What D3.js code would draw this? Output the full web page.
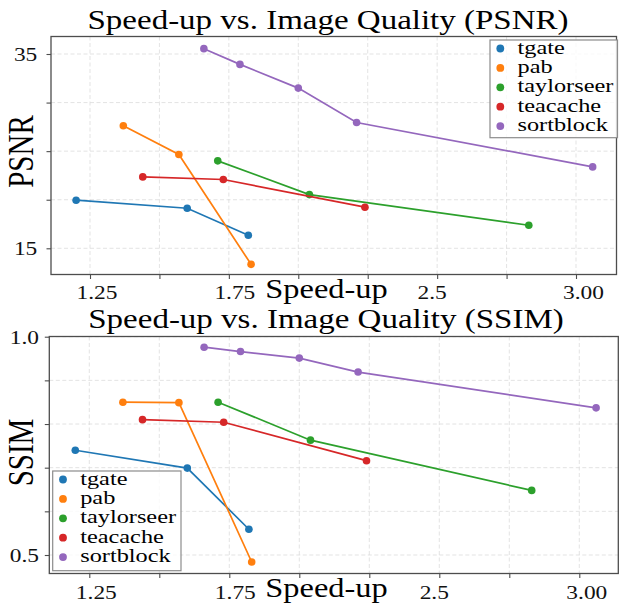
<!DOCTYPE html>
<html>
<head>
<meta charset="utf-8">
<script src="https://cdn.jsdelivr.net/npm/d3@7"></script>
<style>
  html, body { margin: 0; padding: 0; background: #fff; }
  svg { display: block; }
</style>
</head>
<body>
<svg id="chart" width="620" height="605"></svg>
<script>
// ---------------- data ----------------
const methods = ["tgate", "pab", "taylorseer", "teacache", "sortblock"];
const colors = ["#1f77b4", "#ff7f0e", "#2ca02c", "#d62728", "#9467bd"];

const speedTgate      = [1.20, 1.60, 1.82];
const speedPab        = [1.37, 1.57, 1.83];
const speedTaylorseer = [1.71, 2.04, 2.83];
const speedTeacache   = [1.44, 1.73, 2.24];
const speedSortblock  = [1.66, 1.79, 2.00, 2.21, 3.06];

const psnrTgate      = [19.95, 19.12, 16.34];
const psnrPab        = [27.61, 24.66, 13.35];
const psnrTaylorseer = [24.00, 20.53, 17.37];
const psnrTeacache   = [22.35, 22.08, 19.23];
const psnrSortblock  = [35.55, 33.93, 31.49, 27.95, 23.38];

const ssimTgate      = [0.740, 0.699, 0.559];
const ssimPab        = [0.850, 0.849, 0.484];
const ssimTaylorseer = [0.850, 0.763, 0.648];
const ssimTeacache   = [0.810, 0.804, 0.716];
const ssimSortblock  = [0.976, 0.966, 0.951, 0.919, 0.837];

const xTickValues = [1.25, 1.5, 1.75, 2.0, 2.25, 2.5, 2.75, 3.0];
const xTickLabels = ["1.25", "", "1.75", "", "", "2.5", "", "3.00"];
const psnrTickValues = [15, 20, 25, 30, 35];
const psnrTickLabels = ["15", "", "", "", "35"];
const ssimTickValues = [0.5, 0.6, 0.7, 0.8, 0.9, 1.0];
const ssimTickLabels = ["0.5", "", "", "", "", "1.0"];

const speeds = [speedTgate, speedPab, speedTaylorseer, speedTeacache, speedSortblock];
const psnrs  = [psnrTgate, psnrPab, psnrTaylorseer, psnrTeacache, psnrSortblock];
const ssims  = [ssimTgate, ssimPab, ssimTaylorseer, ssimTeacache, ssimSortblock];

// ---------------- drawing ----------------
const FONT = '"Liberation Serif", "Times New Roman", Times, "DejaVu Serif", serif';
const SX = 1.2; // horizontal stretch of the original figure's text
const svg = d3.select("#chart");

function stext(g, x, y, str, size, anchor, rotate, sx) {
  return g.append("text")
    .attr("transform", `translate(${x},${y}) scale(${sx || SX},1)` + (rotate ? " rotate(-90)" : ""))
    .attr("text-anchor", anchor || "start")
    .attr("font-family", FONT)
    .style("font-family", FONT)
    .attr("fill", "#000")
    .style("font-size", size + "px")
    .text(str);
}

const labelShift = {"1.25": 6.5, "1.75": 5.5, "2.5": -5.5, "3.00": 7};

function panel(cfg) {
  const g = svg.append("g");
  const {L, R, T, B} = cfg.frame;
  const x = d3.scaleLinear().domain([1.25, 3.0]).range(cfg.xRange);
  const y = d3.scaleLinear().domain(cfg.yDomain).range(cfg.yRange);

  // grid
  const grid = g.append("g").attr("stroke", "#dcdcdc").attr("stroke-width", 0.8)
    .attr("stroke-dasharray", "4,2.5");
  xTickValues.forEach(v => grid.append("line")
    .attr("x1", x(v)).attr("x2", x(v)).attr("y1", T).attr("y2", B));
  cfg.yTicks.forEach(v => grid.append("line")
    .attr("x1", L).attr("x2", R).attr("y1", y(v)).attr("y2", y(v)));

  // series
  const line = d3.line().x(d => x(d[0])).y(d => y(d[1]));
  methods.forEach((m, i) => {
    const pts = speeds[i].map((s, j) => [s, cfg.values[i][j]]);
    g.append("path").datum(pts).attr("d", line)
      .attr("fill", "none").attr("stroke", colors[i]).attr("stroke-width", 1.7);
    g.selectAll(null).data(pts).enter().append("circle")
      .attr("cx", d => x(d[0])).attr("cy", d => y(d[1])).attr("r", 3.8)
      .attr("fill", colors[i]);
  });

  // frame
  g.append("rect").attr("x", L).attr("y", T).attr("width", R - L).attr("height", B - T)
    .attr("fill", "none").attr("stroke", "#4d4d4d").attr("stroke-width", 1.3);

  // x axis
  const xa = g.append("g").attr("transform", `translate(0,${B})`)
    .call(d3.axisBottom(x).tickValues(xTickValues)
      .tickFormat((d, i) => xTickLabels[i]).tickSizeOuter(0).tickSize(4.5));
  xa.attr("font-family", FONT);
  xa.select(".domain").remove();
  xa.selectAll(".tick line").attr("stroke", "#4d4d4d").attr("stroke-width", 1.1);
  xa.selectAll(".tick text").each(function() {
    const t = d3.select(this);
    const s = t.text();
    const dx = labelShift[s] || 0;
    t.attr("x", null).attr("y", null).attr("dy", null)
      .attr("transform", `translate(${dx},${cfg.xLabelY}) scale(${SX},1)`)
      .attr("text-anchor", "middle")
      .attr("font-family", FONT).style("font-family", FONT)
      .style("font-size", "19.5px").attr("fill", "#111");
  });

  // y axis
  const ya = g.append("g").attr("transform", `translate(${L},0)`)
    .call(d3.axisLeft(y).tickValues(cfg.yTicks)
      .tickFormat((d, i) => cfg.yLabels[i]).tickSizeOuter(0).tickSize(4.5));
  ya.attr("font-family", FONT);
  ya.select(".domain").remove();
  ya.selectAll(".tick line").attr("stroke", "#4d4d4d").attr("stroke-width", 1.1);
  ya.selectAll(".tick text")
    .attr("x", null).attr("y", null).attr("dy", null)
    .attr("transform", `translate(${cfg.yLabelX},6.6) scale(${SX},1)`)
    .attr("text-anchor", "end")
    .attr("font-family", FONT).style("font-family", FONT)
    .style("font-size", "19.5px").attr("fill", "#111");

  // titles
  stext(g, cfg.titleX, cfg.titleY, cfg.title, 27.5, "middle");
  stext(g, cfg.xlabX, cfg.xlabY, "Speed-up", 27, "middle");
  stext(g, 33, cfg.ylabY, cfg.ylabel, 29, "middle", true);

  // legend
  const lg = g.append("g");
  const lb = cfg.legend;
  lg.append("rect").attr("x", lb.x).attr("y", lb.y).attr("width", lb.w).attr("height", lb.h)
    .attr("fill", "rgba(255,255,255,0.8)").attr("stroke", "#8c8c8c").attr("stroke-width", 1.2);
  methods.forEach((m, i) => {
    const cy = lb.y + 8.5 + i * 19.4;
    lg.append("circle").attr("cx", lb.x + 10.3).attr("cy", cy).attr("r", 3.9).attr("fill", colors[i]);
    stext(lg, lb.x + 27.5, cy + 5, m, 19, "start", false, 1.28);
  });
}

panel({
  frame: {L: 51, R: 616.5, T: 36.5, B: 274.5},
  xRange: [90, 576],
  yDomain: [15, 35], yRange: [248.3, 54],
  yTicks: psnrTickValues, yLabels: psnrTickLabels,
  values: psnrs,
  xLabelY: 24.7, yLabelX: -13.7,
  title: "Speed-up vs. Image Quality (PSNR)", titleX: 328, titleY: 28.5,
  xlabX: 326.5, xlabY: 297.5,
  ylabel: "PSNR", ylabY: 151.5,
  legend: {x: 490, y: 40, w: 127.5, h: 97.7}
});

panel({
  frame: {L: 49.3, R: 618.3, T: 336.5, B: 573.5},
  xRange: [89.3, 579.3],
  yDomain: [0.5, 1.0], yRange: [555, 336.7],
  yTicks: ssimTickValues, yLabels: ssimTickLabels,
  values: ssims,
  xLabelY: 25.5, yLabelX: -10.3,
  title: "Speed-up vs. Image Quality (SSIM)", titleX: 326, titleY: 328,
  xlabX: 326.5, xlabY: 597.3,
  ylabel: "SSIM", ylabY: 452.5,
  legend: {x: 52.7, y: 471, w: 128.3, h: 99.7}
});
</script>
</body>
</html>
